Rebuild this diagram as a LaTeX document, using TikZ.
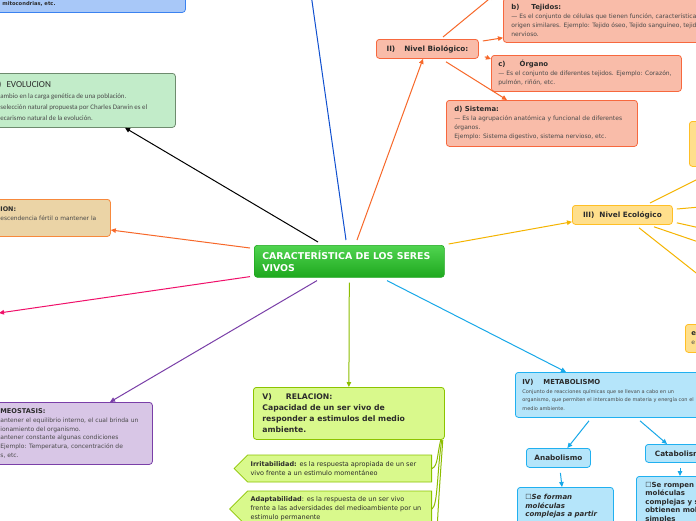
\documentclass[tikz,border=0pt]{standalone}
\usepackage{fontspec}
\setmainfont{DejaVu Sans}
\newfontfamily\carl{Carlito}
\usetikzlibrary{arrows.meta,shapes.symbols,calc}
\definecolor{txtc}{HTML}{2B2B2B}
\definecolor{bodyc}{HTML}{4A4A4A}
\definecolor{blueF}{HTML}{A8C8F8}
\definecolor{blueD}{HTML}{3B82F0}
\definecolor{evoF}{HTML}{C2ECC9}
\definecolor{evoD}{HTML}{6E8B6E}
\definecolor{tanF}{HTML}{EBD4A6}
\definecolor{tanD}{HTML}{F7893C}
\definecolor{purF}{HTML}{D8C6E6}
\definecolor{purD}{HTML}{7A3FA8}
\definecolor{salF}{HTML}{F9BCA9}
\definecolor{salD}{HTML}{F7683E}
\definecolor{yelF}{HTML}{FFDF8C}
\definecolor{yelD}{HTML}{FFBF26}
\definecolor{cyaF}{HTML}{B5E5FA}
\definecolor{cyaD}{HTML}{20B0F0}
\definecolor{grnF}{HTML}{D9F98C}
\definecolor{grnD}{HTML}{8CC400}
\definecolor{ctrT}{HTML}{50D450}
\definecolor{ctrB}{HTML}{1EA81E}
\definecolor{pinkC}{HTML}{F0106A}
\definecolor{orC}{HTML}{F7682A}
\definecolor{goldC}{HTML}{F5B400}
\definecolor{topblue}{HTML}{1050D0}
\definecolor{cyC}{HTML}{18A8E8}
\definecolor{grC}{HTML}{8CBD00}
\newcommand{\myBody}{\color{bodyc}\fontsize{6}{9}\selectfont}
\newcommand{\myHead}{\color{txtc}\fontsize{6.9}{9}\selectfont\bfseries}
\newcommand{\myHeadL}{\color{txtc}\fontsize{7.3}{9}\selectfont\bfseries}
\begin{document}
\begin{tikzpicture}[x=1pt,y=-1pt,
  box/.style={draw, rounded corners=3pt, line width=0.8pt, anchor=north west, align=flush left, inner ysep=0pt, text=txtc},
  cbx/.style={box, align=flush center},
  sig/.style={signal, signal to=west, signal pointer angle=90, draw=grnD, fill=grnF, line width=0.8pt, align=flush left, text width=178pt, inner xsep=3pt, inner ysep=2pt, anchor=east, text=txtc},
  con/.style={line width=1pt, -{Triangle[length=5pt,width=4.5pt]}},
  plain/.style={line width=1pt}]
\clip (0,0) rectangle (696,520);
\fill[white] (0,0) rectangle (696,520);

% central node
\node[box, top color=ctrT, bottom color=ctrB, draw=ctrB, line width=0.6pt, text=white, inner xsep=8pt, text width=174pt, minimum height=32pt] (ctr) at (254,245)
  {\fontsize{9.4}{12}\selectfont\bfseries CARACTERÍSTICA DE LOS SERES\\VIVOS\par};

% left side boxes
\node[box, fill=blueF, draw=blueD, inner xsep=62pt, text width=121pt, minimum height=17pt] (tb) at (-60,-5)
  {\fontsize{5.2}{8}\selectfont\bfseries mitocondrias, etc.\par};

\node[box, fill=evoF, draw=evoD, inner xsep=16pt, text width=163pt, minimum height=54pt] (evo) at (-20,73)
  {{\carl\fontsize{9.2}{12}\selectfont I)\hspace{5pt}EVOLUCION\par}
   {\carl\color{bodyc}\fontsize{6.9}{11}\selectfont \hspace*{4pt}ambio en la carga genética de una población.\\
   \hspace*{4pt}selección natural propuesta por Charles Darwin es el\\
   \hspace*{4pt}ecarismo natural de la evolución.\par}};

\node[box, fill=tanF, draw=tanD, inner xsep=10pt, text width=100pt, minimum height=37pt] (tan) at (-10,199)
  {{\myHead\fontsize{6.4}{9}\selectfont ION:\par}{\myBody\fontsize{5.9}{9}\selectfont escendencia fértil o mantener la\par}\vspace*{9pt}};

\node[box, fill=purF, draw=purD, inner xsep=10pt, text width=142pt, minimum height=62pt] (homeo) at (-10,402)
  {{\myHead\fontsize{6.6}{9}\selectfont MEOSTASIS:\par}
   {\myBody\fontsize{6}{8.8}\selectfont antener el equilibrio interno, el cual brinda un\\
   ionamiento del organismo.\\
   antener constante algunas condiciones\\
   Ejemplo: Temperatura, concentración de\\
   s, etc.\par}};

% biological level
\node[cbx, fill=salF, draw=salD, inner xsep=4pt, text width=94pt, minimum height=19pt] (IIbox) at (376,39)
  {\myHeadL II)\hspace{9pt}Nivel Biológico:};

\node[box, fill=salF, draw=salD, inner xsep=8pt, text width=220pt, minimum height=44pt] (bbox) at (503,-2)
  {{\myHead b)\hspace{12pt}Tejidos:\par}
   {\myBody — Es el conjunto de células que tienen función, características\\
   origen similares. Ejemplo: Tejido óseo, Tejido sanguíneo, tejido\\
   nervioso.\par}};

\node[box, fill=salF, draw=salD, inner xsep=7pt, text width=176pt, minimum height=36pt] (cbox) at (491,55)
  {{\myHead c)\hspace{14pt}Órgano\par}
   {\myBody — Es el conjunto de diferentes tejidos. Ejemplo: Corazón,\\
   pulmón, riñón, etc.\par}};

\node[box, fill=salF, draw=salD, inner xsep=8pt, text width=175pt, minimum height=46pt] (dbox) at (446,100)
  {{\myHead d) Sistema:\par}
   {\myBody — Es la agrupación anatómica y funcional de diferentes\\
   órganos.\\
   Ejemplo: Sistema digestivo, sistema nervioso, etc.\par}};

% ecological level
\node[box, fill=yelF, draw=yelD, minimum width=40pt, minimum height=45pt] (yb1) at (689,121) {};
\node[cbx, fill=yelF, draw=yelD, inner xsep=4pt, text width=92pt, minimum height=19pt] (IIIbox) at (572,205)
  {\myHeadL III)\hspace{5pt}Nivel Ecológico};
\node[box, fill=yelF, draw=yelD, inner xsep=6pt, text width=40pt, minimum height=28pt] (yb2) at (685,324)
  {{\myHead e\par}{\myBody e\par}};

% metabolism
\node[box, fill=cyaF, draw=cyaD, inner xsep=7pt, text width=200pt, minimum height=45pt] (IVbox) at (515,372)
  {{\myHead IV)\hspace{10pt}METABOLISMO\par}
   {\color{bodyc}\fontsize{5}{8.5}\selectfont Conjunto de reacciones químicas que se llevan a cabo en un\\
   organismo, que permiten el intercambio de materia y energía con el\\
   medio ambiente.\par}};
\node[cbx, fill=cyaF, draw=cyaD, inner xsep=3pt, text width=58pt, minimum height=19pt] (ana) at (526,448)
  {\myHeadL Anabolismo};
\node[cbx, fill=cyaF, draw=cyaD, inner xsep=3pt, text width=64pt, minimum height=18pt] (cata) at (645,444)
  {\myHeadL Catabolismo};
\node[box, fill=cyaF, draw=cyaD, inner xsep=8pt, text width=80pt, minimum height=38pt] (anabox) at (517,487)
  {\fontsize{7}{8.5}\selectfont\bfseries\itshape {\normalfont ☐}Se forman\\moléculas\\complejas a partir\par};
\node[box, fill=cyaF, draw=cyaD, inner xsep=9pt, text width=80pt, minimum height=52pt] (catabox) at (636,476)
  {\fontsize{7}{8.5}\selectfont\bfseries {\normalfont ☐}Se rompen\\moléculas\\complejas y se\\obtienen moléculas\\simples\par};

% relation
\node[box, fill=grnF, draw=grnD, inner xsep=9pt, text width=173pt, minimum height=52pt] (Vbox) at (253,387)
  {\fontsize{7.7}{11}\selectfont\bfseries V)\hspace{14pt}RELACION:\\Capacidad de un ser vivo de\\responder a estimulos del medio\\ambiente.\par};
\node[sig, minimum height=27pt] (irr) at (432,468.5)
  {\fontsize{6.5}{9}\selectfont\textbf{Irritabilidad:} es la respuesta apropiada de un ser\\vivo frente a un estimulo momentáneo\par};
\node[sig, minimum height=36pt] (adp) at (432,509)
  {\fontsize{6.5}{9}\selectfont\textbf{Adaptabilidad}: es la respuesta de un ser vivo\\frente a las adversidades del medioambiente por un\\estimulo permanente\par};

% free ends
\coordinate (pinkEnd) at (-1,313);
\coordinate (topEnd) at (311,-6);
\coordinate (aEnd) at (494,-5);
\coordinate (e1) at (700,178);
\coordinate (e2) at (700,207);
\coordinate (e3) at (700,228);
\coordinate (e4) at (700,242.5);
\coordinate (e5) at (700,276);
\coordinate (gEnd) at (436,560);

% connectors from centre
\draw[con, black] ($(ctr.north west)+(64,-3)$) -- ($(evo.south west)+(145,0)$);
\draw[con, orC] ($(ctr.north west)+(-4,3)$) -- ($(tan.north east)+(0,31)$);
\draw[con, pinkC] ($(ctr.south west)+(-4,-1)$) -- (pinkEnd);
\draw[con, purD] ($(ctr.south west)+(63,3)$) -- ($(homeo.north west)+(120,0)$);
\draw[plain, topblue] ($(ctr.north west)+(92,-5)$) -- (topEnd);
\draw[con, orC] ($(ctr.north west)+(103,-5)$) -- ($(IIbox.south west)+(47,0)$);
\draw[con, goldC] ($(ctr.north east)+(4,-1)$) -- ($(IIIbox.south west)+(0,-3)$);
\draw[con, cyC] ($(ctr.south west)+(133,3)$) -- ($(IVbox.north west)+(51,0)$);
\draw[con, grC] ($(ctr.south)+(0,5)$) -- (Vbox.north);

% biological level connectors
\draw[con, orC] ($(IIbox.north west)+(67,-2)$) -- (aEnd);
\draw[con, orC] ($(IIbox.north east)+(4,2)$) -- ($(bbox.south west)+(0,-5)$);
\draw[con, orC] ($(IIbox.south east)+(6,-2)$) -- ($(cbox.north west)+(0,4)$);
\draw[con, orC] ($(IIbox.south west)+(70,3)$) -- ($(dbox.north west)+(61,0)$);

% ecological level connectors
\draw[plain, goldC] ($(IIIbox.north west)+(78,-2)$) -- (e1);
\draw[plain, goldC] ($(IIIbox.north east)+(4,4)$) -- (e2);
\draw[plain, goldC] ($(IIIbox.south east)+(4,-2)$) -- (e3);
\draw[plain, goldC] ($(IIIbox.south west)+(82,2)$) -- (e4);
\draw[plain, goldC] ($(IIIbox.south west)+(67,3)$) -- (e5);

% metabolism connectors
\draw[con, cyC] ($(IVbox.south west)+(74,3)$) -- ($(ana.north)+(9,0)$);
\draw[con, cyC] ($(IVbox.south west)+(125,3)$) -- ($(cata.north west)+(22,0)$);
\draw[con, cyC] ($(ana.south)+(2,5)$) -- ($(anabox.north west)+(45,0)$);
\draw[con, cyC] ($(cata.south west)+(35,5)$) -- ($(catabox.north west)+(44,0)$);

% relation connectors
\draw[plain, grC] ($(Vbox.south east)+(-4,0)$) .. controls (437,455) and (438,466) .. (irr.east);
\draw[plain, grC] ($(Vbox.south east)+(-3,0)$) .. controls (437,470) and (438,505) .. (adp.east);
\draw[plain, grC] ($(Vbox.south east)+(-2,0)$) .. controls (440,480) and (437,520) .. (gEnd);
\end{tikzpicture}
\end{document}
